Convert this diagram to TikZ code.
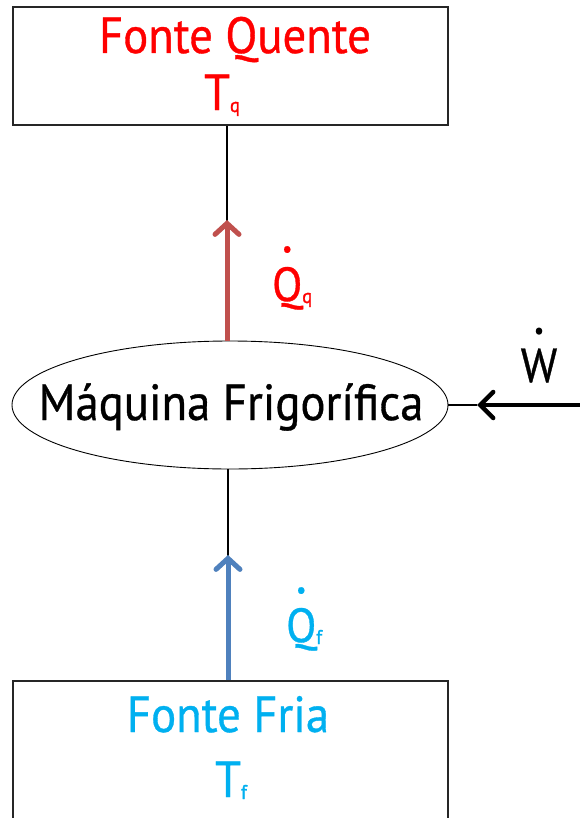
\documentclass[tikz,border=0pt]{standalone}
\usepackage{fontspec}
\setmainfont[FakeStretch=0.92,FakeBold=0.7]{PT Sans}
\usetikzlibrary{arrows.meta,shapes.geometric}
\definecolor{hotred}{HTML}{FF0000}
\definecolor{coldcyan}{HTML}{00B0F0}
\definecolor{arrred}{HTML}{C0504D}
\definecolor{arrblue}{HTML}{4F81BD}
\newcommand{\subsm}[1]{\raisebox{-2bp}{\fontsize{20}{20}\selectfont\addfontfeatures{FakeBold=1.5}#1}}
\newcommand{\dotted}[1]{\leavevmode\setbox0\hbox{#1}\rlap{\hbox to\wd0{\hss\raisebox{\dimexpr\ht0+10bp\relax}{\fontsize{24}{24}\selectfont •}\hss}}\box0}
\tikzset{
  srcbox/.style={draw=black!85, line width=1.8bp, rectangle, minimum width=435bp, inner sep=0pt},
  machine/.style={draw, ellipse, line width=0.9bp, minimum width=436bp, minimum height=128bp, inner sep=0pt},
  thinline/.style={draw, line width=1.1bp},
  heatarrow/.style={line width=5bp, -{Straight Barb[length=11bp,width=24bp,line cap=round]}},
  bigtext/.style={font=\fontsize{51}{56}\selectfont, inner sep=0pt},
  qlabel/.style={font=\fontsize{48}{50}\selectfont, inner sep=0pt}
}
\begin{document}
\begin{tikzpicture}[x=1bp,y=-1bp]
\useasboundingbox (0,0) rectangle (580,818);
\clip (0,0) rectangle (580,818);
\fill[white] (0,0) rectangle (580,818);
% top box
\node[srcbox, minimum height=118bp] (hot) at (230.5,66) {};
\node[bigtext, text=hotred, anchor=base] (hotname) at (235,53) {Fonte Quente};
\node[bigtext, text=hotred, anchor=base] (hotT) at (222,110) {T\subsm{q}};
% machine
\node[machine] (mach) at (230,405) {};
\node[bigtext, anchor=base] (machname) at (231,420) {Máquina Frigorífica};
% bottom box
\node[srcbox, minimum height=170bp, anchor=north] (cold) at (230.5,680) {};
\node[bigtext, text=coldcyan, anchor=base] (coldname) at (228,732) {Fonte Fria};
\node[bigtext, text=coldcyan, anchor=base] (coldT) at (231,797) {T\subsm{f}};
% coordinates
\coordinate (qtop) at (227,220);
\coordinate (qbot) at (228,555);
\coordinate (wstart) at (585,405);
\coordinate (wtip) at (477,405);
% connectors
\draw[thinline] (hot.south -| qtop) -- (mach.north -| qtop);
\draw[heatarrow, arrred] (mach.north -| qtop) -- (qtop);
\draw[thinline] (mach.south -| qbot) -- (cold.north -| qbot);
\draw[heatarrow, arrblue] (cold.north -| qbot) -- (qbot);
\draw[thinline] (mach.east) -- (wtip);
\draw[line width=4.5bp, -{Straight Barb[length=13bp,width=26bp,line cap=round]}] (wstart) -- (wtip);
% labels
\node[qlabel, text=hotred, anchor=base west] (qq) at (272,301) {\dotted{Q}\subsm{q}};
\node[qlabel, text=coldcyan, anchor=base west] (qf) at (286,642) {\dotted{Q}\subsm{f}};
\node[qlabel, text=black, anchor=base] (w) at (539,382) {\dotted{W}};
\end{tikzpicture}
\end{document}
